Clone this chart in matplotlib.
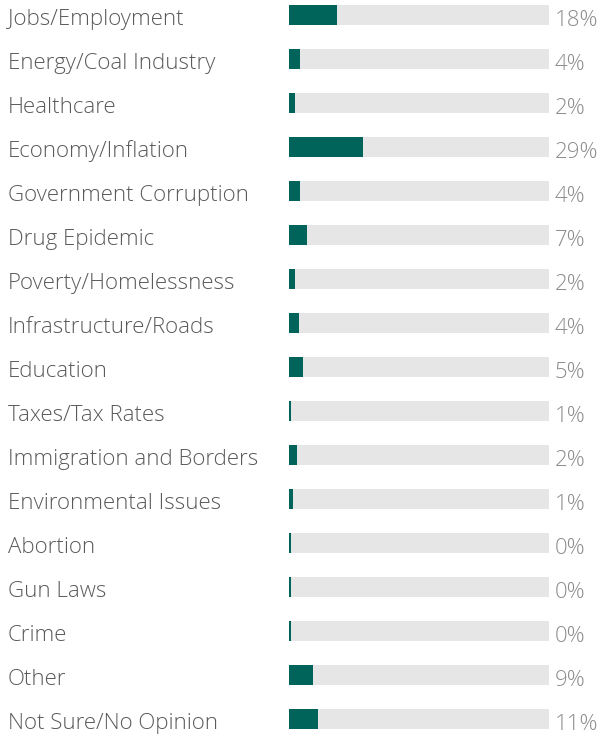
import numpy as np
import matplotlib.pyplot as plt
from matplotlib.transforms import blended_transform_factory

issues = ['Jobs/Employment', 'Energy/Coal Industry', 'Healthcare', 'Economy/Inflation',
          'Government Corruption', 'Drug Epidemic', 'Poverty/Homelessness',
          'Infrastructure/Roads', 'Education', 'Taxes/Tax Rates',
          'Immigration and Borders', 'Environmental Issues', 'Abortion',
          'Gun Laws', 'Crime', 'Other', 'Not Sure/No Opinion']
# shares
shares = [18.4, 4.4, 2.3, 28.6, 4.4, 6.9, 2.3, 3.8, 5.4, 0.9, 3.0, 1.5, 0.7, 0.7, 0.7, 9.2, 11.3]
pct_labels = ['18%', '4%', '2%', '29%', '4%', '7%', '2%', '4%', '5%', '1%',
              '2%', '1%', '0%', '0%', '0%', '9%', '11%']

plt.rcParams['font.family'] = ['Open Sans', 'DejaVu Sans']

fig = plt.figure(figsize=(6, 7.37), dpi=100)
ax = fig.add_axes([289 / 600, 0, 260 / 600, 1])
y = np.arange(len(issues))
ax.barh(y, [100] * len(issues), height=0.45, color='#e6e6e6')
ax.barh(y, shares, height=0.45, color='#00645a')
ax.set_xlim(0, 100)
ax.set_ylim(16 + 18 / 44, -15 / 44)
ax.axis('off')

tr = blended_transform_factory(fig.transFigure, ax.transData)
for i in range(len(issues)):
    ax.text(8 / 600, i + 10.5 / 44, issues[i], transform=tr, ha='left', va='baseline',
            fontsize=16, fontweight='light', color='#5a5a5a')
    ax.text(555 / 600, i + 11.5 / 44, pct_labels[i], transform=tr, ha='left', va='baseline',
            fontsize=16, fontweight='light', color='#8c8c8c')

fig.savefig('out.png', dpi=100)
